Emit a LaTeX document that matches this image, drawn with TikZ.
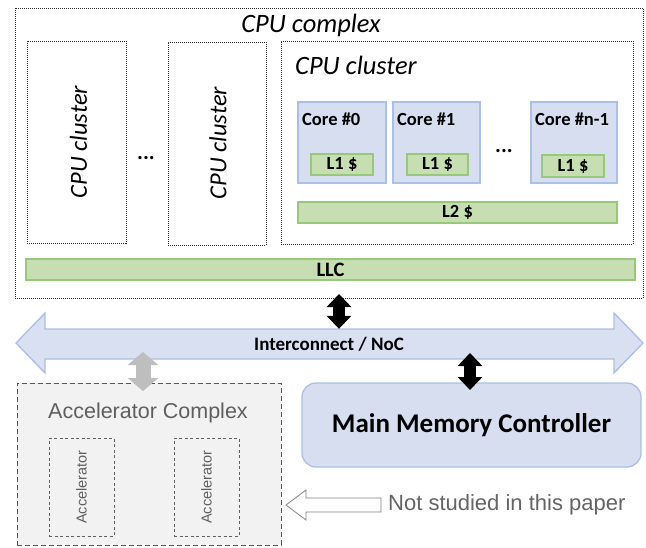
\documentclass[tikz,border=0pt]{standalone}
\usepackage{fontspec}
\setmainfont{Carlito}
\newfontfamily\helv{Liberation Sans}
\usetikzlibrary{fit,arrows.meta}
\definecolor{coreblue}{RGB}{214,222,240}
\definecolor{coreedge}{RGB}{170,192,230}
\definecolor{cgreen}{RGB}{198,222,178}
\definecolor{cgreenedge}{RGB}{152,200,122}
\definecolor{accfill}{RGB}{242,242,242}
\definecolor{accedge}{RGB}{85,85,85}
\definecolor{acctext}{RGB}{95,95,95}
\definecolor{nocfill}{RGB}{217,224,242}
\definecolor{nocedge}{RGB}{170,190,228}
\begin{document}
\begin{tikzpicture}[x=1pt,y=-1pt,
  dotbox/.style={draw=black!85, line width=1pt, dash pattern=on 1pt off 1pt, inner sep=0pt},
  corebox/.style={draw=coreedge, fill=coreblue, line width=1.3pt, inner sep=0pt},
  cachebox/.style={draw=cgreenedge, fill=cgreen, line width=1.3pt, inner sep=0pt},
  cachetext/.style={font=\bfseries\fontsize{18.5}{21}\selectfont},
  titletext/.style={font=\itshape\fontsize{26.5}{30}\selectfont, inner sep=0pt},
  blkarrow/.style={line width=12pt, {Triangle[width=24pt,length=13pt]}-{Triangle[width=24pt,length=13pt]}},
  greyarrow/.style={line width=15pt, draw={rgb,255:red,190;green,190;blue,190}, {Triangle[width=30pt,length=13pt]}-{Triangle[width=30pt,length=13pt]}},
  accbox/.style={draw=acctext, dash pattern=on 3pt off 2.5pt, line width=0.8pt, inner sep=0pt},
  dotstext/.style={font=\bfseries\fontsize{22}{24}\selectfont}
]
\useasboundingbox (0,0) rectangle (646,547);
% CPU complex
\node[dotbox, fit={(15,8)(643,298)}] (cpu) {};
\node[titletext] (cputitle) at (311,25) {CPU complex};
\node[dotbox, fit={(27,41)(126,243)}] (cl1) {};
\node[titletext, rotate=90, font=\itshape\fontsize{24.5}{27}\selectfont] (cl1t) at (78.5,142) {CPU cluster};
\node[dotstext] (dots1) at (146,158) {...};
\node[dotbox, fit={(168,42)(266,245)}] (cl2) {};
\node[titletext, rotate=90, font=\itshape\fontsize{24.5}{27}\selectfont] (cl2t) at (218,143) {CPU cluster};
\node[dotbox, fit={(281,41)(633,244)}] (cl3) {};
\node[titletext, anchor=west] (cl3t) at (295,65) {CPU cluster};
% cores
\node[corebox, fit={(298,102)(386,183)}] (c0) {};
\node[corebox, fit={(393,102)(480,183)}] (c1) {};
\node[corebox, fit={(531,102)(617,183)}] (cn) {};
\node[cachetext, anchor=west, inner sep=0pt] (c0t) at (302,119) {Core \#0};
\node[cachetext, anchor=west, inner sep=0pt] (c1t) at (397,119) {Core \#1};
\node[cachetext, anchor=west, inner sep=0pt] (cnt) at (535,119) {Core \#n-1};
\node[cachebox, fit={(311,154)(373,175)}] (l10) {};
\node[cachetext] at (l10) {L1 \$};
\node[cachebox, fit={(407,154)(468,175)}] (l11) {};
\node[cachetext] at (l11) {L1 \$};
\node[cachebox, fit={(542,155)(604,177)}] (l1n) {};
\node[cachetext] at (l1n) {L1 \$};
\node[dotstext] (dots2) at (504,151) {...};
\node[cachebox, fit={(298,202)(617,223)}] (l2) {};
\node[cachetext] at (l2) {L2 \$};
\node[cachebox, fit={(26,259)(635,280)}] (llc) {};
\node[font=\bfseries\fontsize{20.5}{23}\selectfont] at (llc) {LLC};
% interconnect
\fill[nocfill, draw=nocedge, line width=1.3pt] (16,343) -- (45,313) -- (45,329) -- (614,329) -- (614,313) -- (643,343) -- (614,373) -- (614,359) -- (45,359) -- (45,373) -- cycle;
\node[inner sep=0pt, minimum width=569pt, minimum height=30pt] (noc) at (329.5,344) {};
\node[font=\bfseries\fontsize{19}{22}\selectfont] (noct) at (329,344) {Interconnect / NoC};
% main memory
\node[draw=coreedge, fill=coreblue, line width=1.3pt, rounded corners=14pt, inner sep=0pt, fit={(302,383)(641,467)}] (mem) {};
\node[font=\bfseries\fontsize{27}{30}\selectfont] (memt) at (mem) {Main Memory Controller};
% accelerator complex
\node[draw=accedge, fill=accfill, dash pattern=on 5pt off 3pt, line width=1pt, inner sep=0pt, fit={(17,383)(281,545)}] (acc) {};
\node[font=\helv\fontsize{21.5}{24}\selectfont, text=acctext] (acct) at (148,413) {Accelerator Complex};
\node[accbox, fit={(49,438)(114,536)}] (a1) {};
\node[font=\helv\fontsize{14.5}{16}\selectfont, text=acctext, rotate=90] at (a1) {Accelerator};
\node[accbox, fit={(174,438)(239,536)}] (a2) {};
\node[font=\helv\fontsize{14.5}{16}\selectfont, text=acctext, rotate=90] at (a2) {Accelerator};
% connectors
\draw[blkarrow] (339,294) -- (339,0 |- noc.north);
\draw[blkarrow] (470,353) -- (470,390);
\draw[greyarrow] (143,352) -- (143,391);
% not studied
\node[font=\helv\fontsize{22}{24}\selectfont, text={rgb,255:red,100;green,100;blue,100}, anchor=west, inner sep=0pt] (ns) at (388,505) {Not studied in this paper};
\draw[draw={rgb,255:red,130;green,130;blue,130}, fill=white, line width=0.8pt] (286,505) -- (306,490) -- (306,498) -- (381,498) -- (381,512) -- (306,512) -- (306,520) -- cycle;
\end{tikzpicture}
\end{document}
